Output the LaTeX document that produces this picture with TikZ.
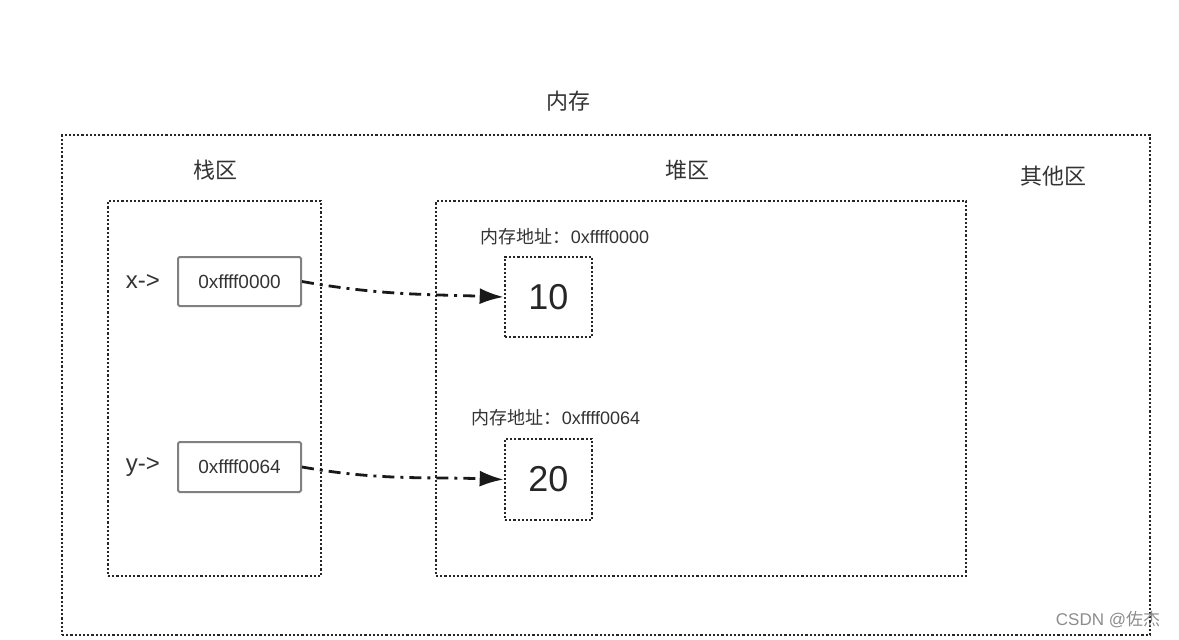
\documentclass[tikz,border=0pt]{standalone}
\usepackage{fontspec}
\setmainfont{Liberation Sans}
\newfontfamily\cjk{Noto Sans CJK SC}
\usetikzlibrary{arrows.meta}

\begin{document}
\begin{tikzpicture}[x=1pt, y=-1pt,
  area/.style={draw=black!85, line width=2.6pt, dash pattern=on 2.2pt off 2pt,
    inner sep=0pt},
  ptrbox/.style={draw=black!50, line width=2pt, rounded corners=1.5pt,
    minimum width=123pt, minimum height=49pt, inner sep=0pt,
    font=\fontsize{19}{21}\selectfont, text=black!80},
  valbox/.style={area, minimum width=87pt, minimum height=80pt,
    font=\fontsize{36}{40}\selectfont, text=black!85},
  title/.style={font=\cjk\fontsize{22}{24}\selectfont, text=black!80},
  addr/.style={font=\fontsize{18}{20}\selectfont, text=black!80},
  link/.style={draw=black!90, line width=2.8pt,
    dash pattern=on 12pt off 6pt on 3pt off 6pt,
    -{Latex[length=24pt, width=16pt]}}]
  \useasboundingbox (0,0) rectangle (1179,640);
  \node[area, minimum width=1088pt, minimum height=500pt] (mem) at (606,385) {};
  \node[area, minimum width=213pt, minimum height=375pt] (stack) at (214.5,388.5) {};
  \node[area, minimum width=530pt, minimum height=375pt] (heap) at (701,388.5) {};
  \node[title] (memlbl) at (568,101) {内存};
  \node[title] (stacklbl) at (215,170) {栈区};
  \node[title] (heaplbl) at (687,170) {堆区};
  \node[title] (otherlbl) at (1053,176) {其他区};
  \node[font=\fontsize{24}{26}\selectfont, text=black!80] (xname) at (143,282) {x->};
  \node[font=\fontsize{24}{26}\selectfont, text=black!80] (yname) at (143,467) {y->};
  \node[ptrbox] (xptr) at (239.5,281.5) {0xffff0000};
  \node[ptrbox, minimum height=50pt] (yptr) at (239.5,467) {0xffff0064};
  \node[addr] (addr1) at (565,237) {{\cjk 内存地址：}0xffff0000};
  \node[addr] (addr2) at (556,418) {{\cjk 内存地址：}0xffff0064};
  \node[valbox] (v1) at (548.5,297) {10};
  \node[valbox, minimum height=81pt] (v2) at (548.5,479.5) {20};
  \draw[link] (xptr.east) to[out=-10, in=178] (v1.west);
  \draw[link] (yptr.east) to[out=-10, in=178] (v2.west);
  \node[font=\fontsize{17}{19}\selectfont, text=black!45] (mark) at (1108,620)
    {CSDN @{\cjk 佐杰}};
\end{tikzpicture}
\end{document}
